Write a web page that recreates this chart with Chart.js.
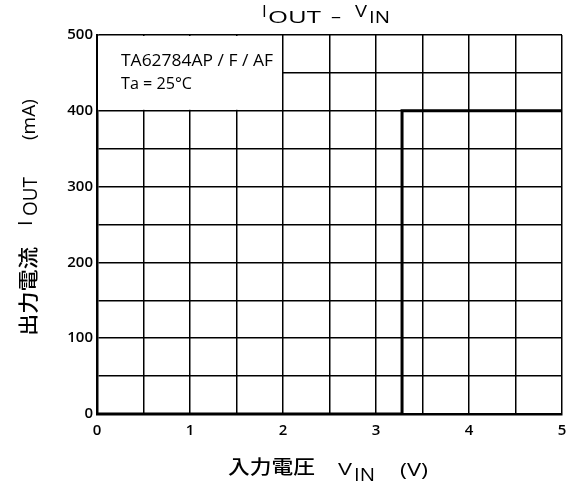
<!DOCTYPE html>
<html>
<head>
<meta charset="utf-8">
<script src="https://cdn.jsdelivr.net/npm/chart.js@4"></script>
<style>
  html, body { margin: 0; padding: 0; background: #fff; }
  #wrap { width: 572px; height: 488px; }
</style>
</head>
<body>
<div id="wrap"><canvas id="ioutChart" width="572" height="488"></canvas></div>
<script>
// curve: 0 mA until about 3.28 V, then 400 mA
var vin = [0, 3.28, 3.28, 5];
var iout = [0, 0, 400, 400];
var xLabels = [0, 1, 2, 3, 4, 5];
var yLabels = [0, 100, 200, 300, 400, 500];
var noteLines = ['TA62784AP / F / AF', 'Ta = 25°C'];

var FONT = '"Open Sans", "Noto Sans", sans-serif';
var JP = '"Noto Sans CJK JP", sans-serif';

// draw text from x0 to x1 on baseline y (stretched to fit, the scan's font is wide)
function fitText(ctx, t, x0, x1, y, font) {
  ctx.save();
  ctx.font = font;
  var w = ctx.measureText(t).width;
  ctx.translate(x0, y);
  if (x1 != null) ctx.scale((x1 - x0) / w, 1);
  ctx.fillText(t, 0, 0);
  ctx.restore();
}

var LAT = '500 17px ' + FONT;
var LATY = '500 20px ' + FONT;
var JPF = '500 19px ' + JP;
var JPY = '500 20px ' + JP;

var notePlugin = {
  id: 'notes',
  beforeDatasetsDraw: function (chart) {
    var ctx = chart.ctx, xs = chart.scales.x, ys = chart.scales.y;
    // white note box hides the grid in the upper-left corner
    var l = xs.getPixelForValue(0) + 1, r = xs.getPixelForValue(2) - 1;
    var t = ys.getPixelForValue(500) + 1, b = ys.getPixelForValue(400) - 1;
    ctx.save();
    ctx.fillStyle = '#fff';
    ctx.fillRect(l, t, r - l, b - t);
    ctx.fillStyle = '#000';
    ctx.textBaseline = 'alphabetic';
    fitText(ctx, noteLines[0], 121, 273, 66, '500 16px ' + FONT);
    fitText(ctx, noteLines[1], 121, 192, 89, '500 16px ' + FONT);
    ctx.restore();
  },
  afterDraw: function (chart) {
    var ctx = chart.ctx;
    ctx.save();
    ctx.fillStyle = '#000';
    ctx.textBaseline = 'alphabetic';
    ctx.textAlign = 'left';
    // title  I_OUT - V_IN
    fitText(ctx, 'I', 262, null, 17, LAT);
    fitText(ctx, 'OUT', 268, 321, 23, LAT);
    fitText(ctx, '–', 331, 341, 22, LAT);
    fitText(ctx, 'V', 355, 367, 17, LAT);
    fitText(ctx, 'IN', 369, 390, 23, LAT);
    // x axis title
    fitText(ctx, '入力電圧', 228, 315, 474, JPF);
    fitText(ctx, 'V', 338, 352, 475, LAT);
    fitText(ctx, 'IN', 354, 375, 481, '500 18px ' + FONT);
    fitText(ctx, '(V)', 400, 428, 476, '500 19px ' + FONT);
    // y axis title, rotated: u = -canvasY, v = canvasX
    ctx.rotate(-Math.PI / 2);
    fitText(ctx, '出力電流', -336, -247, 36, JPY);
    fitText(ctx, 'I', -226, null, 32, LATY);
    fitText(ctx, 'OUT', -216, -177, 37, LATY);
    fitText(ctx, '(mA)', -140, null, 35, '500 19px ' + FONT);
    ctx.restore();
  }
};

var tickFont = { family: FONT, size: 15, weight: '600' };

var ctx = document.getElementById('ioutChart').getContext('2d');
var chart = new Chart(ctx, {
  type: 'scatter',
  data: {
    datasets: [{
      data: vin.map(function (v, i) { return {x: v, y: iout[i]}; }),
      showLine: true,
      borderColor: '#000',
      borderWidth: 3,
      pointRadius: 0,
      tension: 0
    }]
  },
  options: {
    responsive: false,
    animation: false,
    layout: { padding: { left: 0, right: 10, top: 35, bottom: 0 } },
    plugins: { legend: { display: false }, tooltip: { enabled: false } },
    scales: {
      x: {
        type: 'linear', min: 0, max: 5,
        afterFit: function (s) { s.height = 74; s.paddingLeft = 0; s.paddingRight = 0; },
        ticks: {
          stepSize: 0.5, color: '#000', padding: 8,
          font: tickFont,
          autoSkip: false, maxRotation: 0,
          callback: function (v) { return xLabels.indexOf(v) >= 0 ? String(v) : ''; }
        },
        grid: { color: '#000', lineWidth: 1.5, drawTicks: false },
        border: { color: '#000', width: 2.5 }
      },
      y: {
        type: 'linear', min: 0, max: 500,
        afterFit: function (s) { s.width = 97; s.paddingTop = 0; s.paddingBottom = 0; },
        ticks: {
          stepSize: 50, color: '#000', padding: 4,
          font: tickFont,
          autoSkip: false,
          callback: function (v) { return yLabels.indexOf(v) >= 0 ? String(v) : ''; }
        },
        grid: { color: '#000', lineWidth: 1.5, drawTicks: false },
        border: { color: '#000', width: 2.5 }
      }
    }
  },
  plugins: [notePlugin]
});
</script>
</body>
</html>
